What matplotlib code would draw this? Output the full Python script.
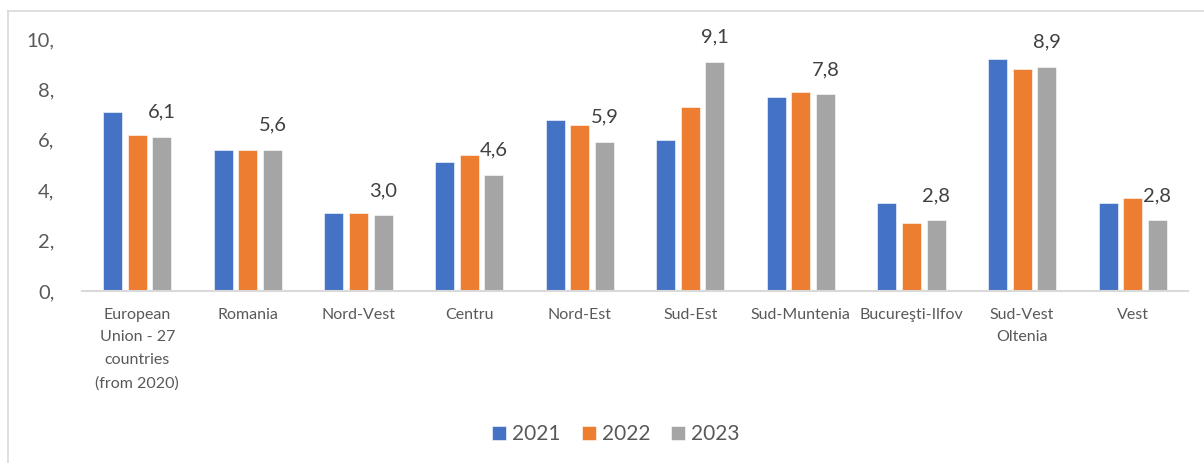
import matplotlib
matplotlib.use("Agg")
import matplotlib.pyplot as plt
import numpy as np
from matplotlib.lines import Line2D

plt.rcParams["font.family"] = ["Lato", "DejaVu Sans"]

regions = [
    "European\nUnion - 27\ncountries\n(from 2020)",
    "Romania",
    "Nord-Vest",
    "Centru",
    "Nord-Est",
    "Sud-Est",
    "Sud-Muntenia",
    "Bucureşti-Ilfov",
    "Sud-Vest\nOltenia",
    "Vest",
]
years = ["2021", "2022", "2023"]
values_2021 = [7.1, 5.6, 3.1, 5.1, 6.8, 6.0, 7.7, 3.5, 9.2, 3.5]
values_2022 = [6.2, 5.6, 3.1, 5.4, 6.6, 7.3, 7.9, 2.7, 8.8, 3.7]
values_2023 = [6.1, 5.6, 3.0, 4.6, 5.9, 9.1, 7.8, 2.8, 8.9, 2.8]
yticks = [0, 2, 4, 6, 8, 10]

colors = ["#4472C4", "#ED7D31", "#A5A5A5"]
text_color = "#595959"

fig = plt.figure(figsize=(12.04, 4.63), dpi=100)
ax = fig.add_axes([0.0681, 0.3715, 0.9186, 0.5443])

x = np.arange(len(regions))
step = 0.223
width = 0.172
series = [values_2021, values_2022, values_2023]
bars = []
for i, (vals, year) in enumerate(zip(series, years)):
    b = ax.bar(x + (i - 1) * step, vals, width, color=colors[i], label=year,
               edgecolor="white", linewidth=0.4, zorder=2)
    bars.append(b)

# data labels only on the 2023 series
for rect, v in zip(bars[2], values_2023):
    ax.annotate(f"{v:.1f}".replace(".", ","),
                (rect.get_x() + rect.get_width() / 2, rect.get_height()),
                xytext=(0, 18), textcoords="offset points",
                ha="center", va="center", fontsize=14.5, color="#404040")

ax.set_xlim(-0.5, len(regions) - 0.5)
ax.set_ylim(0, 10)
ax.set_yticks(yticks)
ax.set_yticklabels([f"{t}," for t in yticks])
ax.set_xticks(x)
ax.set_xticklabels(regions, fontsize=11.5, color=text_color, linespacing=1.8,
                   va="top")
ax.tick_params(axis="y", length=0, pad=20, labelsize=14.5, labelcolor=text_color)
ax.tick_params(axis="x", length=0, pad=12)
for lbl in ax.get_yticklabels():
    lbl.set_horizontalalignment("right")

for side in ["left", "right", "top"]:
    ax.spines[side].set_visible(False)
ax.spines["bottom"].set_color("#d9d9d9")
ax.spines["bottom"].set_linewidth(1.5)

leg = fig.legend(handles=bars, labels=years, loc="center",
                 bbox_to_anchor=(616 / 1204, 1 - 434 / 463), ncol=3,
                 frameon=False, fontsize=15, handlelength=0.67,
                 handleheight=0.67, handletextpad=0.3, columnspacing=1.0)
for t in leg.get_texts():
    t.set_color(text_color)

# chart frame (left and top edges only visible)
fig.add_artist(Line2D([8 / 1204, 8 / 1204], [0, 1 - 11 / 463],
                      transform=fig.transFigure, color="#d9d9d9", lw=1.2))
fig.add_artist(Line2D([8 / 1204, 1], [1 - 11 / 463, 1 - 11 / 463],
                      transform=fig.transFigure, color="#d9d9d9", lw=1.2))

fig.savefig("out.png", dpi=100)
plt.close(fig)
